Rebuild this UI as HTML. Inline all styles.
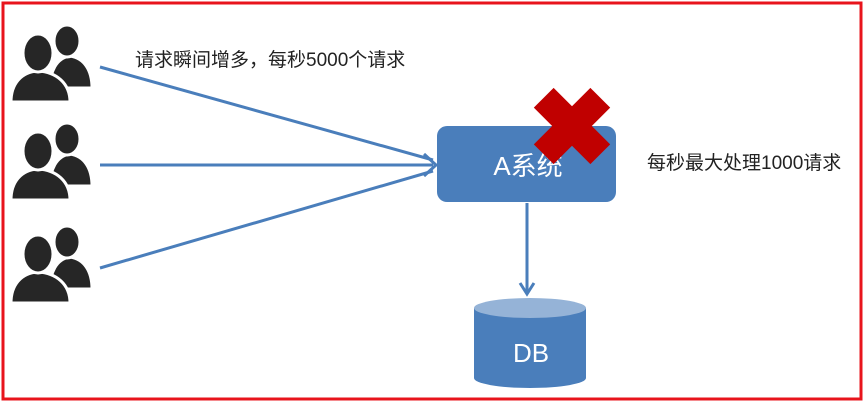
<!DOCTYPE html>
<html><head><meta charset="utf-8"><style>
body{margin:0;background:#fff;}
svg{display:block;font-family:"Liberation Sans","Noto Sans CJK SC",sans-serif;}
</style></head><body>
<svg width="865" height="403" viewBox="0 0 865 403">
<rect x="3" y="3" width="858" height="396" fill="none" stroke="#e8141c" stroke-width="3"/>
<defs>
<g id="u">
 <path d="M50 88c0-16 6-30 20-32c14 2 22 14 22 32z" fill="#262626" stroke="#fff" stroke-width="3"/>
 <ellipse cx="67" cy="41" rx="13" ry="16" fill="#262626" stroke="#fff" stroke-width="3"/>
 <path d="M11 102c0-18 10-30 27-31c18 1 32 12 32 31z" fill="#262626" stroke="#fff" stroke-width="3"/>
 <ellipse cx="38" cy="53" rx="15" ry="19" fill="#262626" stroke="#fff" stroke-width="3"/>
</g>
</defs>
<use href="#u" x="0" y="0"/>
<use href="#u" x="0" y="98"/>
<use href="#u" x="0" y="201"/>
<g stroke="#4a7ebb" stroke-width="3" fill="none">
<line x1="100" y1="67" x2="433" y2="160"/>
<line x1="100" y1="165" x2="433" y2="165"/>
<line x1="100" y1="268" x2="433" y2="171"/>
<polyline points="424,154 436,165 424,176"/>
<line x1="527" y1="203" x2="527" y2="293"/>
<polyline points="520,283 527,294 534,283"/>
</g>
<text x="135" y="66" font-size="19" fill="#222">请求瞬间增多，每秒5000个请求</text>
<rect x="437" y="126" width="179" height="76" rx="10" fill="#4a7ebb"/>
<text x="528" y="175" font-size="26" fill="#fff" text-anchor="middle">A系统</text>
<g fill="#c00000" transform="translate(572,126) rotate(45)">
<rect x="-40" y="-14" width="80" height="28"/>
<rect x="-14" y="-40" width="28" height="80"/>
</g>
<text x="647" y="169" font-size="19" fill="#222">每秒最大处理1000请求</text>
<path d="M474 308v70a56 10 0 0 0 112 0v-70z" fill="#4a7ebb"/>
<ellipse cx="530" cy="308" rx="56" ry="10" fill="#95b3d7"/>
<text x="531" y="362" font-size="26" fill="#fff" text-anchor="middle">DB</text>
</svg>
</body></html>
